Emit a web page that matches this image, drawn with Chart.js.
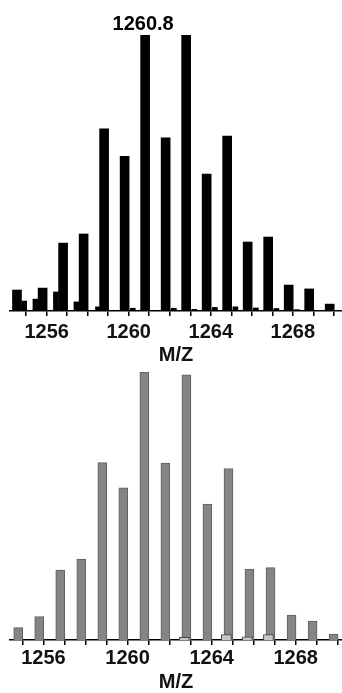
<!DOCTYPE html>
<html>
<head>
<meta charset="utf-8">
<script src="https://cdn.jsdelivr.net/npm/chart.js@4/dist/chart.umd.min.js"></script>
<style>
  html, body { margin: 0; padding: 0; background: #fff; }
  #wrap { position: relative; width: 342px; height: 693px; }
  canvas { position: absolute; left: 0; }
  #topChart { top: 0; }
  #bottomChart { top: 366px; }
</style>
</head>
<body>
<div id="wrap">
  <canvas id="topChart" width="342" height="365"></canvas>
  <canvas id="bottomChart" width="342" height="326"></canvas>
</div>
<script>
// m/z positions and relative intensities
const topMz = [1254.55, 1255.8, 1256.8, 1257.8, 1258.8, 1259.8, 1260.8, 1261.8,
  1262.8, 1263.8, 1264.8, 1265.8, 1266.8, 1267.8, 1268.8, 1269.8];
const topIntensity = [7.6, 8.3, 24.6, 27.9, 66, 56, 100, 62.7,
  100, 49.6, 63.4, 25, 26.8, 9.4, 8, 2.5];

// small side peaks in the top spectrum
const topMinorMz = [1254.9, 1255.45, 1256.45, 1257.45, 1258.5, 1260.2, 1262.2,
  1263.2, 1264.2, 1265.2, 1266.2, 1267.2, 1268.2];
const topMinorIntensity = [3.6, 4.3, 6.9, 3.3, 1.5, 1.0, 1.0,
  0.6, 1.3, 1.5, 1.1, 0.9, 0.5];

const bottomMz = [1254.8, 1255.8, 1256.8, 1257.8, 1258.8, 1259.8, 1260.8, 1261.8,
  1262.8, 1263.8, 1264.8, 1265.8, 1266.8, 1267.8, 1268.8, 1269.8];
const bottomIntensity = [4.6, 8.7, 26.1, 30.2, 66.2, 56.8, 100, 66,
  98.9, 50.7, 64, 26.5, 27, 9.3, 7.1, 2.2];

// small side peaks in the bottom spectrum
const bottomMinorMz = [1262.7, 1264.7, 1265.7, 1266.7];
const bottomMinorIntensity = [1.0, 2.0, 1.2, 2.0];

const tickLabels = [1256, 1260, 1264, 1268];
const peakLabel = { mz: 1260.8, text: "1260.8" };

const FONT = "'Liberation Sans', Arial, sans-serif";

function toPoints(xs, ys) {
  return xs.map((x, i) => ({ x: x, y: ys[i] }));
}

// draws the "1260.8" annotation above the peak
const peakLabelPlugin = {
  id: "peakLabel",
  afterDatasetsDraw(chart) {
    const { ctx, scales } = chart;
    const x = scales.x.getPixelForValue(peakLabel.mz) - 2;
    const y = scales.y.getPixelForValue(100) - 11;
    ctx.save();
    ctx.font = "bold 20px " + FONT;
    ctx.fillStyle = "#000";
    ctx.textAlign = "center";
    ctx.textBaseline = "middle";
    ctx.fillText(peakLabel.text, x, y);
    ctx.restore();
  }
};

function makeOptions(xMin, xMax, padTop, tickPad, titlePad) {
  return {
    responsive: false,
    animation: false,
    layout: { padding: { left: 10, right: 0, top: padTop, bottom: 0 } },
    plugins: { legend: { display: false }, tooltip: { enabled: false } },
    scales: {
      x: {
        type: "linear",
        min: xMin,
        max: xMax,
        offset: false,
        grid: {
          drawOnChartArea: false,
          tickLength: 5,
          color: "#000",
          lineWidth: 1.5,
          offset: false
        },
        border: { color: "#000", width: 1.5 },
        ticks: {
          stepSize: 1,
          includeBounds: false,
          autoSkip: false,
          maxRotation: 0,
          padding: tickPad,
          color: "#111",
          font: { family: FONT, size: 20, weight: "bold", lineHeight: 1.2 },
          callback: (v) => (tickLabels.includes(v) ? String(v) : "")
        },
        title: {
          display: true,
          text: "M/Z",
          color: "#111",
          font: { family: FONT, size: 20, weight: "bold", lineHeight: 1 },
          padding: { top: titlePad, bottom: 0 }
        }
      },
      y: { display: false, min: 0, max: 100 }
    }
  };
}

// top spectrum (black)
new Chart(document.getElementById("topChart"), {
  type: "bar",
  data: {
    datasets: [
      {
        data: toPoints(topMz, topIntensity),
        backgroundColor: "#000",
        borderWidth: 0,
        barThickness: 9,
        grouped: false
      },
      {
        data: toPoints(topMinorMz, topMinorIntensity),
        backgroundColor: "#000",
        borderWidth: 0,
        barThickness: 5,
        grouped: false
      }
    ]
  },
  options: makeOptions(1254.21, 1270.4, 35, 4, -3),
  plugins: [peakLabelPlugin]
});

// bottom spectrum (grey)
new Chart(document.getElementById("bottomChart"), {
  type: "bar",
  data: {
    datasets: [
      {
        data: toPoints(bottomMinorMz, bottomMinorIntensity),
        backgroundColor: "#c8c8c8",
        borderColor: "#444",
        borderWidth: 1,
        barThickness: 10,
        grouped: false
      },
      {
        data: toPoints(bottomMz, bottomIntensity),
        backgroundColor: "#858585",
        borderColor: "#5e5e5e",
        borderWidth: 1,
        barThickness: 9,
        grouped: false
      }
    ]
  },
  options: makeOptions(1254.41, 1270.2, 6, 1, 1)
});
</script>
</body>
</html>
